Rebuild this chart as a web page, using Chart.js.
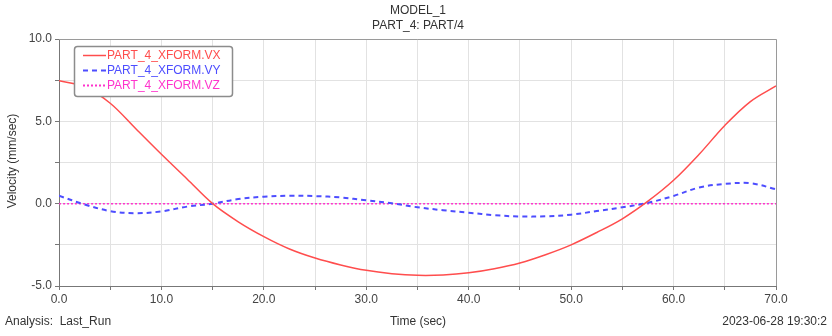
<!DOCTYPE html>
<html>
<head>
<meta charset="utf-8">
<script src="https://cdn.jsdelivr.net/npm/chart.js@4.4.0/dist/chart.umd.min.js"></script>
<style>
  html, body { margin: 0; padding: 0; background: #fff; }
  #wrap { width: 832px; height: 336px; position: relative; }
</style>
</head>
<body>
<div id="wrap"><canvas id="myChart"></canvas></div>
<script>
// time samples (sec)
const time = [0, 2.5, 5, 7.5, 10, 12.5, 15, 17.5, 20, 22.5, 25, 27.5, 30, 32.5, 35,
  37.5, 40, 42.5, 45, 47.5, 50, 52.5, 55, 57.5, 60, 62.5, 65, 67.5, 70];

// velocities (mm/sec)
const vx = [7.47, 7.1, 6.1, 4.55, 3.0, 1.5, 0.0, -1.1, -2.0, -2.75, -3.3, -3.72, -4.05, -4.25, -4.35,
  -4.33, -4.2, -3.95, -3.6, -3.1, -2.5, -1.75, -0.92, 0.15, 1.42, 3.0, 4.75, 6.2, 7.15];
const vy = [0.48, -0.05, -0.45, -0.58, -0.47, -0.18, 0.0, 0.28, 0.42, 0.48, 0.46, 0.38, 0.2, 0.02, -0.22,
  -0.4, -0.55, -0.7, -0.78, -0.77, -0.67, -0.45, -0.22, 0.05, 0.47, 0.98, 1.2, 1.24, 0.88];
const vz = [0, 0, 0, 0, 0, 0, 0, 0, 0, 0, 0, 0, 0, 0, 0,
  0, 0, 0, 0, 0, 0, 0, 0, 0, 0, 0, 0, 0, 0];

const seriesNames = ['PART_4_XFORM.VX', 'PART_4_XFORM.VY', 'PART_4_XFORM.VZ'];
const seriesColors = ['#ff4d4d', '#4d4dff', '#ff33cc'];
const seriesDash = [[], [5, 4], [2, 2]];

const titleText = 'MODEL_1';
const subtitleText = 'PART_4: PART/4';
const xTitle = 'Time (sec)';
const yTitle = 'Velocity (mm/sec)';
const analysisText = 'Analysis:  Last_Run';
const stampText = '2023-06-28 19:30:2';

const FONT = '"Liberation Sans", Arial, sans-serif';

const toPoints = (ys) => time.map((t, i) => ({ x: t, y: ys[i] }));

// draws titles, frame, legend and footer texts
const decorPlugin = {
  id: 'decor',
  afterDraw(chart) {
    const { ctx, chartArea } = chart;
    ctx.save();

    // frame (top and right)
    ctx.strokeStyle = '#9a9a9a';
    ctx.lineWidth = 1;
    ctx.beginPath();
    ctx.moveTo(chartArea.left, chartArea.top + 0.5);
    ctx.lineTo(chartArea.right + 0.5, chartArea.top + 0.5);
    ctx.lineTo(chartArea.right + 0.5, chartArea.bottom);
    ctx.stroke();

    ctx.fillStyle = '#333';
    ctx.font = '12px ' + FONT;
    ctx.textBaseline = 'middle';
    ctx.textAlign = 'center';
    ctx.fillText(titleText, 418, 11);
    ctx.fillText(subtitleText, 418, 26);
    ctx.fillText(xTitle, 418, 322);

    ctx.textAlign = 'left';
    ctx.fillText(analysisText, 5, 322);
    ctx.textAlign = 'right';
    ctx.fillText(stampText, 827, 322);

    // y axis title
    ctx.save();
    ctx.translate(13, 161);
    ctx.rotate(-Math.PI / 2);
    ctx.textAlign = 'center';
    ctx.fillText(yTitle, 0, 0);
    ctx.restore();

    // legend box
    const bx = 74.5, by = 46.5, bw = 158, bh = 50;
    ctx.fillStyle = '#fff';
    ctx.strokeStyle = '#8c8c8c';
    ctx.lineWidth = 1.5;
    ctx.beginPath();
    ctx.roundRect(bx, by, bw, bh, 3);
    ctx.fill();
    ctx.stroke();

    seriesNames.forEach((name, i) => {
      const y = 55.5 + i * 15;
      ctx.strokeStyle = seriesColors[i];
      ctx.lineWidth = i === 0 ? 1.5 : 2;
      ctx.setLineDash(seriesDash[i]);
      ctx.beginPath();
      ctx.moveTo(83, y);
      ctx.lineTo(106, y);
      ctx.stroke();
      ctx.setLineDash([]);
      ctx.fillStyle = seriesColors[i];
      ctx.textAlign = 'left';
      ctx.fillText(name, 107, y);
    });

    ctx.restore();
  },
};

const data = {
  datasets: [
    {
      label: seriesNames[0],
      data: toPoints(vx),
      borderColor: seriesColors[0],
      borderWidth: 1.5,
      borderDash: seriesDash[0],
    },
    {
      label: seriesNames[1],
      data: toPoints(vy),
      borderColor: seriesColors[1],
      borderWidth: 2,
      borderDash: seriesDash[1],
    },
    {
      label: seriesNames[2],
      data: toPoints(vz),
      borderColor: seriesColors[2],
      borderWidth: 1.5,
      borderDash: seriesDash[2],
    },
  ],
};

const config = {
  type: 'line',
  data,
  options: {
    responsive: true,
    maintainAspectRatio: false,
    animation: false,
    events: [],
    layout: {
      padding: { top: 39, right: 56, bottom: 0, left: 0 },
    },
    elements: {
      point: { radius: 0 },
      line: { tension: 0.35, fill: false },
    },
    scales: {
      x: {
        type: 'linear',
        min: 0,
        max: 70,
        afterFit: (scale) => { scale.height = 50; },
        ticks: {
          stepSize: 5,
          autoSkip: false,
          maxRotation: 0,
          padding: 2,
          color: '#444',
          font: { size: 12, family: FONT },
          callback: (v) => (v % 10 === 0 ? v.toFixed(1) : ''),
        },
        grid: {
          color: '#e2e2e2',
          tickColor: '#777',
          tickLength: 4,
        },
        border: { color: '#777', width: 1 },
      },
      y: {
        min: -5,
        max: 10,
        afterFit: (scale) => { scale.width = 59; },
        ticks: {
          stepSize: 2.5,
          autoSkip: false,
          padding: 3,
          color: '#444',
          font: { size: 12, family: FONT },
          callback: (v) => (v % 5 === 0 ? v.toFixed(1) : ''),
        },
        grid: {
          color: '#e2e2e2',
          tickColor: '#777',
          tickLength: 4,
        },
        border: { color: '#777', width: 1 },
      },
    },
    plugins: {
      legend: { display: false },
      tooltip: { enabled: false },
    },
  },
  plugins: [decorPlugin],
};

const myChart = new Chart(document.getElementById('myChart'), config);
</script>
</body>
</html>
